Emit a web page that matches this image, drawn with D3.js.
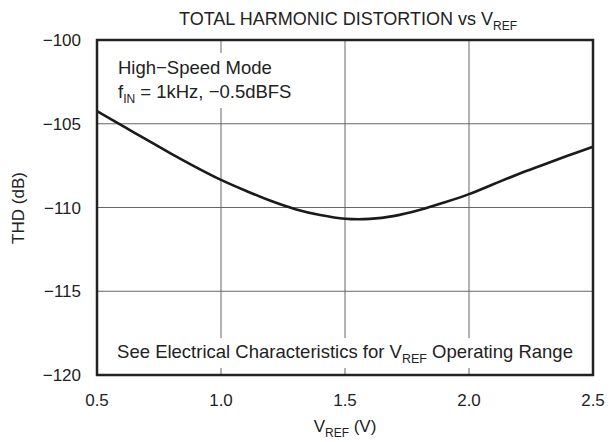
<html>
<head>
  <script src="https://d3js.org/d3.v7.min.js"></script>
  <style>
  body { margin: 0; background: #fff; }
  text { font-family: "Liberation Sans", Arial, sans-serif; fill: #222; }
  </style>
</head>
<body>
  <svg width="610" height="442"></svg>

<script>
// THD vs VREF, high-speed mode
var vref = [0.5, 0.6, 0.7, 0.8, 0.9, 1.0, 1.1, 1.2, 1.3, 1.4, 1.5, 1.6, 1.7, 1.8, 1.9, 2.0, 2.1, 2.2, 2.3, 2.4, 2.5];
var thd = [-104.25, -105.1, -105.95, -106.8, -107.6, -108.35, -109.0, -109.6, -110.1, -110.45, -110.67,
           -110.68, -110.5, -110.15, -109.7, -109.2, -108.6, -108.0, -107.45, -106.9, -106.37];
var xTicks = [0.5, 1.0, 1.5, 2.0, 2.5];
var yTicks = [-100, -105, -110, -115, -120];

var svg = d3.select("svg");
var pLeft = 97, pRight = 593, pTop = 40, pBottom = 375;

var x = d3.scaleLinear().domain([0.5, 2.5]).range([pLeft, pRight]);
var y = d3.scaleLinear().domain([-120, -100]).range([pBottom, pTop]);

// grid
svg.selectAll("line.vg").data(xTicks.slice(1, -1)).enter().append("line")
  .attr("x1", function(d){ return x(d); }).attr("x2", function(d){ return x(d); })
  .attr("y1", pTop).attr("y2", pBottom)
  .attr("stroke", "#666").attr("stroke-width", 1);
svg.selectAll("line.hg").data(yTicks.slice(1, -1)).enter().append("line")
  .attr("x1", pLeft).attr("x2", pRight)
  .attr("y1", function(d){ return y(d); }).attr("y2", function(d){ return y(d); })
  .attr("stroke", "#666").attr("stroke-width", 1);

// white boxes behind the notes
svg.append("rect").attr("x", pLeft).attr("y", 53).attr("width", 200).attr("height", 55).attr("fill", "#fff");
svg.append("rect").attr("x", pLeft).attr("y", 338).attr("width", pRight - pLeft).attr("height", 30).attr("fill", "#fff");

// curve
var line = d3.line()
  .x(function(d, i){ return x(vref[i]); })
  .y(function(d){ return y(d); })
  .curve(d3.curveCatmullRom);
svg.append("path").attr("d", line(thd))
  .attr("fill", "none").attr("stroke", "#1a1a1a").attr("stroke-width", 2.6);

// frame
svg.append("rect").attr("x", pLeft).attr("y", pTop)
  .attr("width", pRight - pLeft).attr("height", pBottom - pTop)
  .attr("fill", "none").attr("stroke", "#222").attr("stroke-width", 2.5);

// tick labels
svg.selectAll("text.xl").data(xTicks).enter().append("text")
  .attr("x", function(d){ return x(d); }).attr("y", 406)
  .attr("text-anchor", "middle").attr("font-size", 17)
  .text(function(d){ return d3.format(".1f")(d); });
svg.selectAll("text.yl").data(yTicks).enter().append("text")
  .attr("x", 81).attr("y", function(d){ return y(d) + 6; })
  .attr("text-anchor", "end").attr("font-size", 17)
  .text(function(d){ return "\u2212" + Math.abs(d); });

// title
var t = svg.append("text").attr("x", 348).attr("y", 25).attr("text-anchor", "middle").attr("font-size", 18);
t.append("tspan").text("TOTAL HARMONIC DISTORTION vs V");
t.append("tspan").attr("font-size", 12).attr("dy", 5).text("REF");

// axis titles
var xt = svg.append("text").attr("x", 345).attr("y", 432).attr("text-anchor", "middle").attr("font-size", 17);
xt.append("tspan").text("V");
xt.append("tspan").attr("font-size", 12).attr("dy", 5).text("REF");
xt.append("tspan").attr("dy", -5).text(" (V)");

svg.append("text").attr("transform", "translate(24,208) rotate(-90)")
  .attr("text-anchor", "middle").attr("font-size", 17).text("THD (dB)");

// notes
svg.append("text").attr("x", 118).attr("y", 74).attr("font-size", 18.5).text("High\u2212Speed Mode");
var n2 = svg.append("text").attr("x", 118).attr("y", 98).attr("font-size", 18.5);
n2.append("tspan").text("f");
n2.append("tspan").attr("font-size", 12).attr("dy", 5).text("IN");
n2.append("tspan").attr("dy", -5).text(" = 1kHz, \u22120.5dBFS");

var n3 = svg.append("text").attr("x", 345).attr("y", 358).attr("text-anchor", "middle").attr("font-size", 18.5);
n3.append("tspan").text("See Electrical Characteristics for V");
n3.append("tspan").attr("font-size", 12.5).attr("dy", 5).text("REF");
n3.append("tspan").attr("dy", -5).text(" Operating Range");
</script>
</body></html>
